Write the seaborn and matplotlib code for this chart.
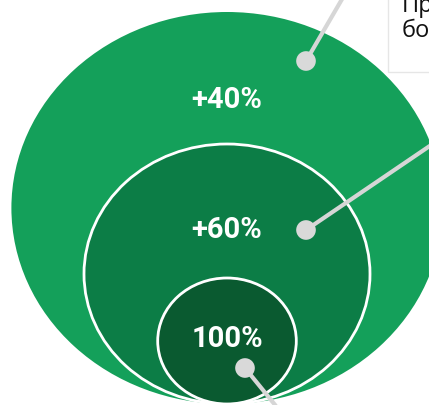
import matplotlib
matplotlib.use("Agg")
import matplotlib.pyplot as plt
from matplotlib.patches import Ellipse, Rectangle
import seaborn as sns
import pandas as pd

# data
labels = ["+40%", "+60%", "100%"]
radii = [196, 130, 63]          # relative circle sizes (outer -> inner)
colors = ["#14A05A", "#0C7D46", "#0A5A30"]
label_y = [100, 230, 339]
dot_x = [306, 306, 245]
dot_y = [62, 231, 369]
line_end_x = [345, 440, 280]
line_end_y = [-5, 140, 412]
box_text = "Пр\nбо"

sns.set_theme(style="white")
plt.rcParams['font.family'] = ['Roboto', 'DejaVu Sans']

fig = plt.figure(figsize=(4.29, 4.06), dpi=100)
ax = fig.add_axes([0, 0, 1, 1])
ax.set_xlim(0, 429)
ax.set_ylim(406, 0)
ax.axis("off")

cx = 227
bottom = 405
stretch = 1.1
for i, (r, c) in enumerate(zip(radii, colors)):
    ec = "none" if i == 0 else "white"
    e = Ellipse((cx, bottom - r), width=2 * r * stretch, height=2 * r,
                facecolor=c, edgecolor=ec, linewidth=2 if i else 0, zorder=1 + i)
    ax.add_patch(e)

for lab, y in zip(labels, label_y):
    ax.text(cx, y, lab, color="white", fontsize=21, fontweight="bold",
            ha="center", va="center", zorder=10)

for x0, y0, x1, y1 in zip(dot_x, dot_y, line_end_x, line_end_y):
    ax.plot([x0, x1], [y0, y1], color="#D6D6D6", lw=3, zorder=8,
            solid_capstyle="butt")

df = pd.DataFrame({"x": dot_x, "y": dot_y})
sns.scatterplot(data=df, x="x", y="y", s=200, color="#D9D9D9",
                edgecolor="none", zorder=9, ax=ax, legend=False)
ax.set_xlabel("")
ax.set_ylabel("")
ax.set_xlim(0, 429)
ax.set_ylim(406, 0)

ax.add_patch(Rectangle((388, -20), 200, 93, facecolor="white",
                       edgecolor="#E6E6E6", lw=1, zorder=12))
ax.text(402, 37, box_text, fontsize=17, color="#111111", ha="left",
        va="baseline", linespacing=1.05, zorder=13,
        family=['Open Sans', 'DejaVu Sans'], clip_on=True)

fig.savefig("out.png", dpi=100)
